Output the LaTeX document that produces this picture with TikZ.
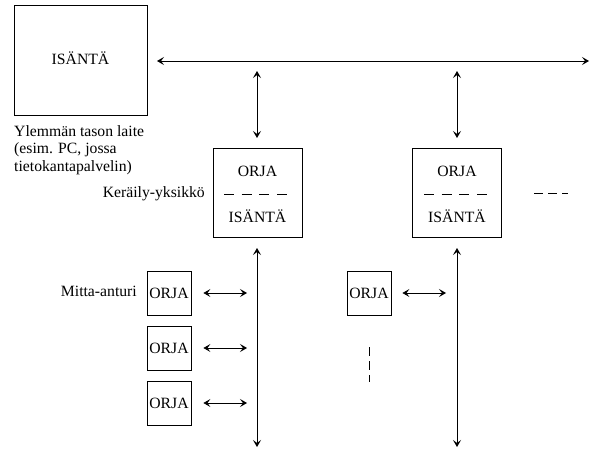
\documentclass[tikz,border=0pt]{standalone}
\usepackage{fontspec}
\setmainfont{Liberation Serif}
\usetikzlibrary{arrows.meta}
\begin{document}
\begin{tikzpicture}[x=1pt,y=-1pt,
  every node/.style={font=\fontsize{15.7}{17.5}\selectfont, inner sep=0pt},
  box/.style={draw, line width=0.8pt, rectangle},
  bigbox/.style={box, minimum width=133pt, minimum height=110pt},
  midbox/.style={box, minimum width=89pt, minimum height=89pt},
  smallbox/.style={box, minimum width=44pt, minimum height=44pt},
  tip/.tip={Stealth[length=7pt,width=8pt,inset=3pt]},
  link/.style={line width=0.8pt, tip-tip},
  sep/.style={line width=0.8pt, dash pattern=on 10pt off 7.7pt},
  lbl/.style={align=left}
]
\useasboundingbox (0,0) rectangle (593,449);

% upper level host
\node[bigbox] (host) at (80.5,60) {};
\node (hosttxt) at (80.5,58) {ISÄNTÄ};
\node[lbl, anchor=west] (hostlbl) at (14,150) {Ylemmän tason laite\\(esim. PC, jossa\\tietokantapalvelin)};

% main bus
\coordinate (busL) at (157,61);
\coordinate (busR) at (589,61);
\draw[link] (busL) -- (busR);

% collector units
\node[midbox] (k1) at (257.5,192.5) {};
\node (k1o) at (257.5,171) {ORJA};
\node (k1i) at (257.5,216) {ISÄNTÄ};
\coordinate (k1dl) at (224,194);
\coordinate (k1dr) at (288,194);
\draw[sep] (k1dl) -- (k1dr);

\node[midbox] (k2) at (457,192.5) {};
\node (k2o) at (457,171) {ORJA};
\node (k2i) at (457,216) {ISÄNTÄ};
\coordinate (k2dl) at (424,194);
\coordinate (k2dr) at (488,194);
\draw[sep] (k2dl) -- (k2dr);

\node[anchor=east] (klbl) at (205,194) {Keräily-yksikkö};

% more units
\coordinate (moreL) at (534,193);
\coordinate (moreR) at (568,193);
\draw[line width=0.8pt, dash pattern=on 9pt off 5pt] (moreL) -- (moreR);

% links from bus to collectors
\coordinate (v1t) at (257,71);
\coordinate (v1b) at (257,138);
\draw[link] (v1t) -- (v1b);
\coordinate (v2t) at (457,71);
\coordinate (v2b) at (457,138);
\draw[link] (v2t) -- (v2b);

% field buses
\coordinate (f1t) at (257,248);
\coordinate (f1b) at (257,447);
\draw[link] (f1t) -- (f1b);
\coordinate (f2t) at (457,248);
\coordinate (f2b) at (457,447);
\draw[link] (f2t) -- (f2b);

% sensors
\node[smallbox] (s1) at (169,293) {ORJA};
\node[smallbox] (s2) at (169,348) {ORJA};
\node[smallbox] (s3) at (169,403) {ORJA};
\node[smallbox] (s4) at (369,293) {ORJA};
\node[anchor=east] (slbl) at (137,291) {Mitta-anturi};

\coordinate (a1r) at (247,293);
\coordinate (a2r) at (247,348);
\coordinate (a3r) at (247,403);
\coordinate (a4r) at (446,293);
\draw[link] ([xshift=12pt]s1.east) -- (a1r);
\draw[link] ([xshift=12pt]s2.east) -- (a2r);
\draw[link] ([xshift=12pt]s3.east) -- (a3r);
\draw[link] ([xshift=11pt]s4.east) -- (a4r);

% more sensors
\coordinate (mst) at (369,347);
\coordinate (msb) at (369,382);
\draw[line width=0.6pt, dash pattern=on 9pt off 5pt] (mst) -- (msb);
\end{tikzpicture}
\end{document}
